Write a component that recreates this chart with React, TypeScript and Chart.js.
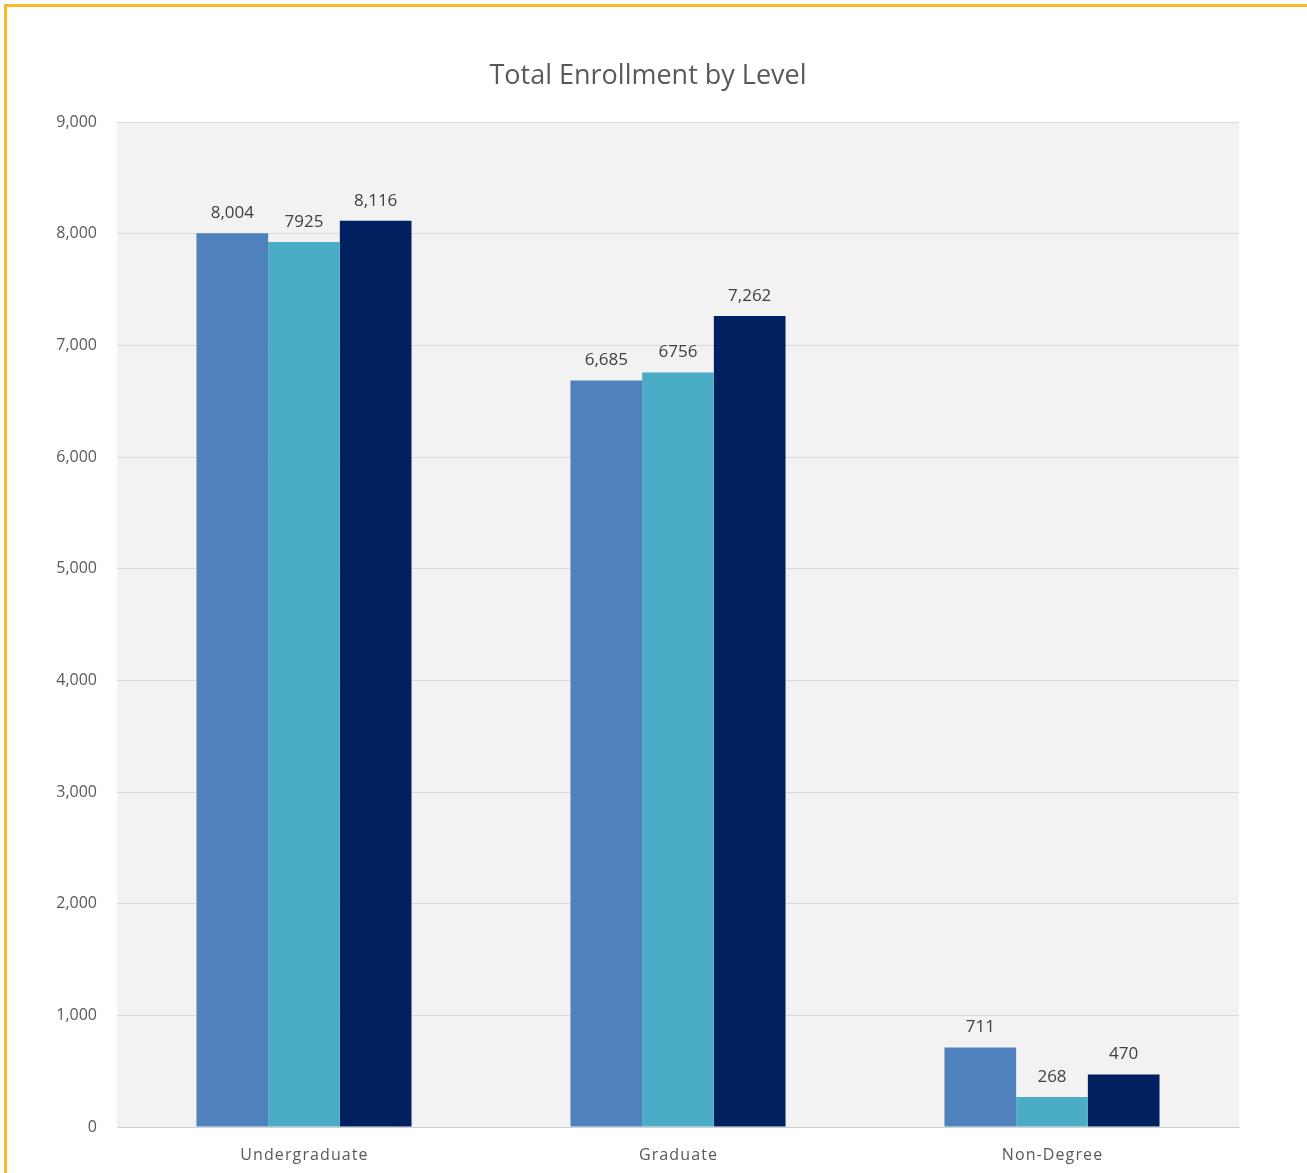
import React, { useEffect, useRef } from "react";
import { Chart, registerables } from "chart.js";
Chart.register(...registerables);

const categories = ["Undergraduate", "Graduate", "Non-Degree"];
const seriesA = [8004, 6685, 711];
const seriesB = [7925, 6756, 268];
const seriesC = [8116, 7262, 470];
const labelsA = ["8,004", "6,685", "711"];
const labelsB = ["7925", "6756", "268"];
const labelsC = ["8,116", "7,262", "470"];
const seriesNames = ["Series A", "Series B", "Series C"];
const colors = ["#4f81bd", "#4bacc6", "#002060"];
const titleText = "Total Enrollment by Level";
const yMin = 0;
const yMax = 9000;
const yStep = 1000;

const W = 1307;
const H = 1173;

export default function App() {
  const ref = useRef<HTMLCanvasElement | null>(null);
  useEffect(() => {
    if (!ref.current) return;
    const valueLabels = [labelsA, labelsB, labelsC];
    const bgPlugin = {
      id: "plotBg",
      beforeDraw(chart: any) {
        const { ctx, chartArea } = chart;
        ctx.save();
        ctx.fillStyle = "#f2f2f2";
        ctx.fillRect(chartArea.left, chartArea.top, chartArea.right - chartArea.left, chartArea.bottom - chartArea.top);
        ctx.restore();
      },
    };
    const labelPlugin = {
      id: "valueLabels",
      afterDatasetsDraw(chart: any) {
        const { ctx } = chart;
        ctx.save();
        ctx.font = "17px 'Open Sans'";
        ctx.fillStyle = "#404040";
        ctx.textAlign = "center";
        ctx.textBaseline = "middle";
        chart.data.datasets.forEach((_: any, di: number) => {
          const meta = chart.getDatasetMeta(di);
          meta.data.forEach((el: any, i: number) => {
            ctx.fillText(valueLabels[di][i], el.x, el.y - 20);
          });
        });
        ctx.restore();
      },
    };
    const xLabelPlugin = {
      id: "xLabels",
      afterDraw(chart: any) {
        const { ctx } = chart;
        const xs = chart.scales.x;
        ctx.save();
        ctx.font = "16px 'Open Sans'";
        (ctx as any).letterSpacing = "1.1px";
        ctx.fillStyle = "#595959";
        ctx.textAlign = "center";
        ctx.textBaseline = "middle";
        categories.forEach((c, i) => {
          ctx.fillText(c, xs.getPixelForValue(i) + 0.5, chart.chartArea.bottom + 28);
        });
        ctx.restore();
      },
    };
    const titlePlugin = {
      id: "customTitle",
      afterDraw(chart: any) {
        const { ctx } = chart;
        ctx.save();
        ctx.font = "27px 'Open Sans'";
        ctx.fillStyle = "#595959";
        ctx.textAlign = "center";
        ctx.textBaseline = "middle";
        ctx.fillText(titleText, 648, 76);
        ctx.restore();
      },
    };
    const chart = new Chart(ref.current, {
      type: "bar",
      data: {
        labels: categories,
        datasets: [seriesA, seriesB, seriesC].map((d, i) => ({
          label: seriesNames[i],
          data: d,
          backgroundColor: colors[i],
          borderWidth: 0,
          barPercentage: 1,
          categoryPercentage: 0.575,
        })),
      },
      options: {
        responsive: false,
        animation: false,
        devicePixelRatio: 1,
        layout: { padding: { top: 122, right: 68, bottom: 0, left: 0 } },
        plugins: {
          legend: { display: false },
          title: { display: false },
          tooltip: { enabled: false },
        },
        scales: {
          x: {
            grid: { display: false, drawTicks: false },
            border: { display: true, color: "#d0d0d0", width: 1 },
            ticks: { display: false },
            afterFit(scale: any) {
              scale.height = 46;
            },
          },
          y: {
            min: yMin,
            max: yMax,
            grid: { color: "#d9d9d9", lineWidth: 1, drawTicks: false },
            border: { display: false },
            ticks: {
              stepSize: yStep,
              color: "#595959",
              font: { family: "'Open Sans'", size: 16 },
              padding: 20,
              callback: (v: any) => Number(v).toLocaleString("en-US"),
            },
            afterFit(scale: any) {
              scale.width = 117;
            },
          },
        },
      },
      plugins: [bgPlugin, labelPlugin, xLabelPlugin, titlePlugin],
    });
    return () => chart.destroy();
  }, []);
  return (
    <div style={{ position: "absolute", left: 0, top: 0, width: W, height: H, overflow: "hidden", background: "#fff" }}>
      <canvas ref={ref} width={W} height={H} style={{ position: "absolute", left: 0, top: 0, width: W, height: H }} />
      <div
        style={{
          position: "absolute",
          left: 4,
          top: 4,
          width: W + 20,
          height: H + 20,
          borderTop: "3px solid #fdb827",
          borderLeft: "3px solid #fdb827",
          pointerEvents: "none",
        }}
      />
    </div>
  );
}
